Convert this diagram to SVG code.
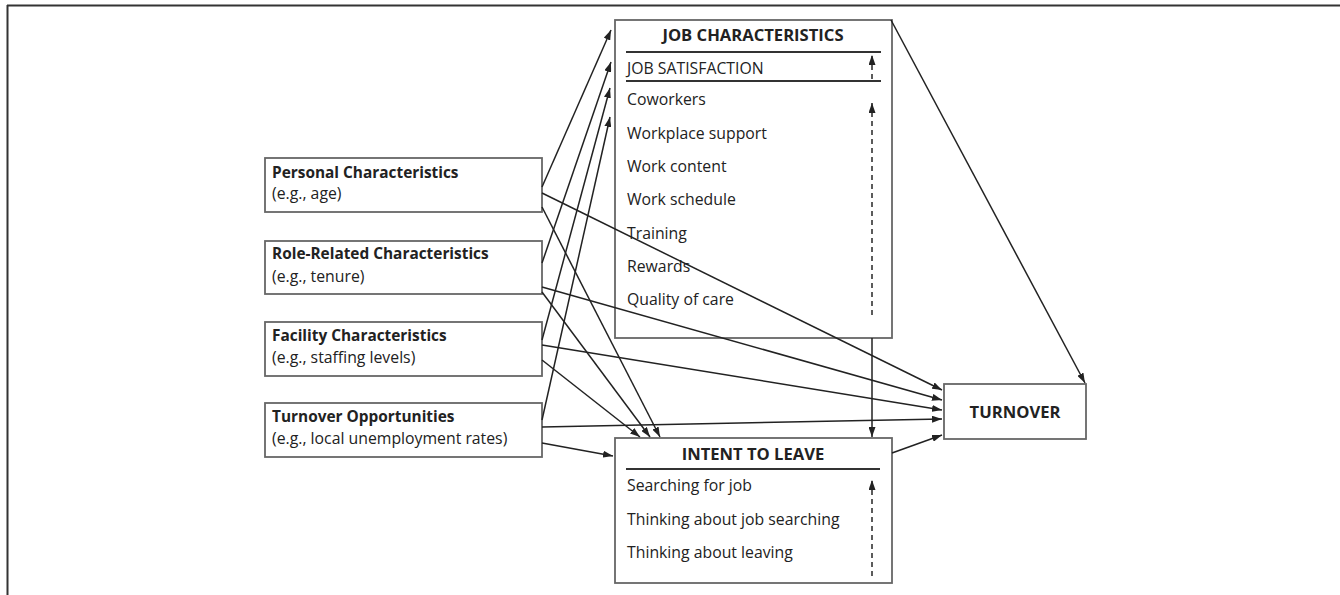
<svg xmlns="http://www.w3.org/2000/svg" width="1340" height="595" viewBox="0 0 1340 595">
<style>
.box{fill:#fff;stroke:#666;stroke-width:1.8}
.sep{stroke:#333;stroke-width:1.8}
.t{font-family:"Open Sans","Noto Sans","Liberation Sans",sans-serif;font-size:15.8px;fill:#222}
.b{font-weight:bold;font-size:15.4px}
.h{font-weight:bold;font-size:16.6px}
.c{stroke:#222;stroke-width:1.5;fill:none}
.d{stroke:#333;stroke-width:1.6;fill:none;stroke-dasharray:5,4}
</style>
<defs>
<marker id="ah" markerUnits="userSpaceOnUse" markerWidth="10" markerHeight="7" refX="10" refY="3.5" orient="auto">
<path d="M0,0 L10,3.5 L0,7 z" fill="#222"/>
</marker>
</defs>
<rect width="1340" height="595" fill="#fff"/>
<g id="frame">
<line x1="7" y1="5.5" x2="1340" y2="5.5" stroke="#333" stroke-width="2"/>
<line x1="7.5" y1="5" x2="7.5" y2="595" stroke="#333" stroke-width="2"/>
</g>
<g id="personal">
<rect class="box" x="265" y="158" width="277" height="54"/>
<text class="t b" x="272" y="178">Personal Characteristics</text>
<text class="t" x="272" y="199">(e.g., age)</text>
</g>
<g id="role">
<rect class="box" x="265" y="241" width="277" height="53"/>
<text class="t b" x="272" y="259">Role-Related Characteristics</text>
<text class="t" x="272" y="282">(e.g., tenure)</text>
</g>
<g id="facility">
<rect class="box" x="265" y="322" width="277" height="54"/>
<text class="t b" x="272" y="341">Facility Characteristics</text>
<text class="t" x="272" y="363">(e.g., staffing levels)</text>
</g>
<g id="opportunities">
<rect class="box" x="265" y="403" width="277" height="54"/>
<text class="t b" x="272" y="422">Turnover Opportunities</text>
<text class="t" x="272" y="444">(e.g., local unemployment rates)</text>
</g>
<g id="jobchar">
<rect class="box" x="615" y="20" width="277" height="318"/>
<text class="t h" x="753" y="41" text-anchor="middle">JOB CHARACTERISTICS</text>
<line class="sep" x1="626" y1="52" x2="881" y2="52"/>
<text class="t" x="627" y="74">JOB SATISFACTION</text>
<line class="sep" x1="626" y1="81" x2="881" y2="81"/>
<text class="t" x="627" y="105">Coworkers</text>
<text class="t" x="627" y="139">Workplace support</text>
<text class="t" x="627" y="172">Work content</text>
<text class="t" x="627" y="205">Work schedule</text>
<text class="t" x="627" y="239">Training</text>
<text class="t" x="627" y="272">Rewards</text>
<text class="t" x="627" y="305">Quality of care</text>
<line class="d" x1="872" y1="79" x2="872" y2="55" marker-end="url(#ah)"/>
<line class="d" x1="872" y1="315" x2="872" y2="103" marker-end="url(#ah)"/>
</g>
<g id="intent">
<rect class="box" x="615" y="438" width="277" height="145"/>
<text class="t h" x="753" y="460" text-anchor="middle">INTENT TO LEAVE</text>
<line class="sep" x1="626" y1="469" x2="880" y2="469"/>
<text class="t" x="627" y="491">Searching for job</text>
<text class="t" x="627" y="525">Thinking about job searching</text>
<text class="t" x="627" y="558">Thinking about leaving</text>
<line class="d" x1="872" y1="576" x2="872" y2="480" marker-end="url(#ah)"/>
</g>
<g id="turnover">
<rect class="box" x="944" y="384" width="142" height="55"/>
<text class="t h" x="1015" y="418" text-anchor="middle">TURNOVER</text>
</g>
<g id="connectors">
<line class="c" x1="542" y1="187" x2="611" y2="30" marker-end="url(#ah)"/>
<line class="c" x1="542" y1="263" x2="611" y2="62" marker-end="url(#ah)"/>
<line class="c" x1="542" y1="340" x2="610" y2="88" marker-end="url(#ah)"/>
<line class="c" x1="542" y1="420" x2="610" y2="117" marker-end="url(#ah)"/>
<line class="c" x1="542" y1="193" x2="942" y2="390" marker-end="url(#ah)"/>
<line class="c" x1="542" y1="287" x2="942" y2="400" marker-end="url(#ah)"/>
<line class="c" x1="542" y1="345" x2="942" y2="410" marker-end="url(#ah)"/>
<line class="c" x1="542" y1="427" x2="942" y2="419" marker-end="url(#ah)"/>
<line class="c" x1="542" y1="207" x2="660" y2="437" marker-end="url(#ah)"/>
<line class="c" x1="542" y1="292" x2="650" y2="437" marker-end="url(#ah)"/>
<line class="c" x1="542" y1="360" x2="640" y2="437" marker-end="url(#ah)"/>
<line class="c" x1="542" y1="443" x2="613" y2="456" marker-end="url(#ah)"/>
<line class="c" x1="872" y1="338" x2="872" y2="437" marker-end="url(#ah)"/>
<line class="c" x1="891" y1="20" x2="1085" y2="383" marker-end="url(#ah)"/>
<line class="c" x1="892" y1="453" x2="942" y2="435" marker-end="url(#ah)"/>
</g>
</svg>
